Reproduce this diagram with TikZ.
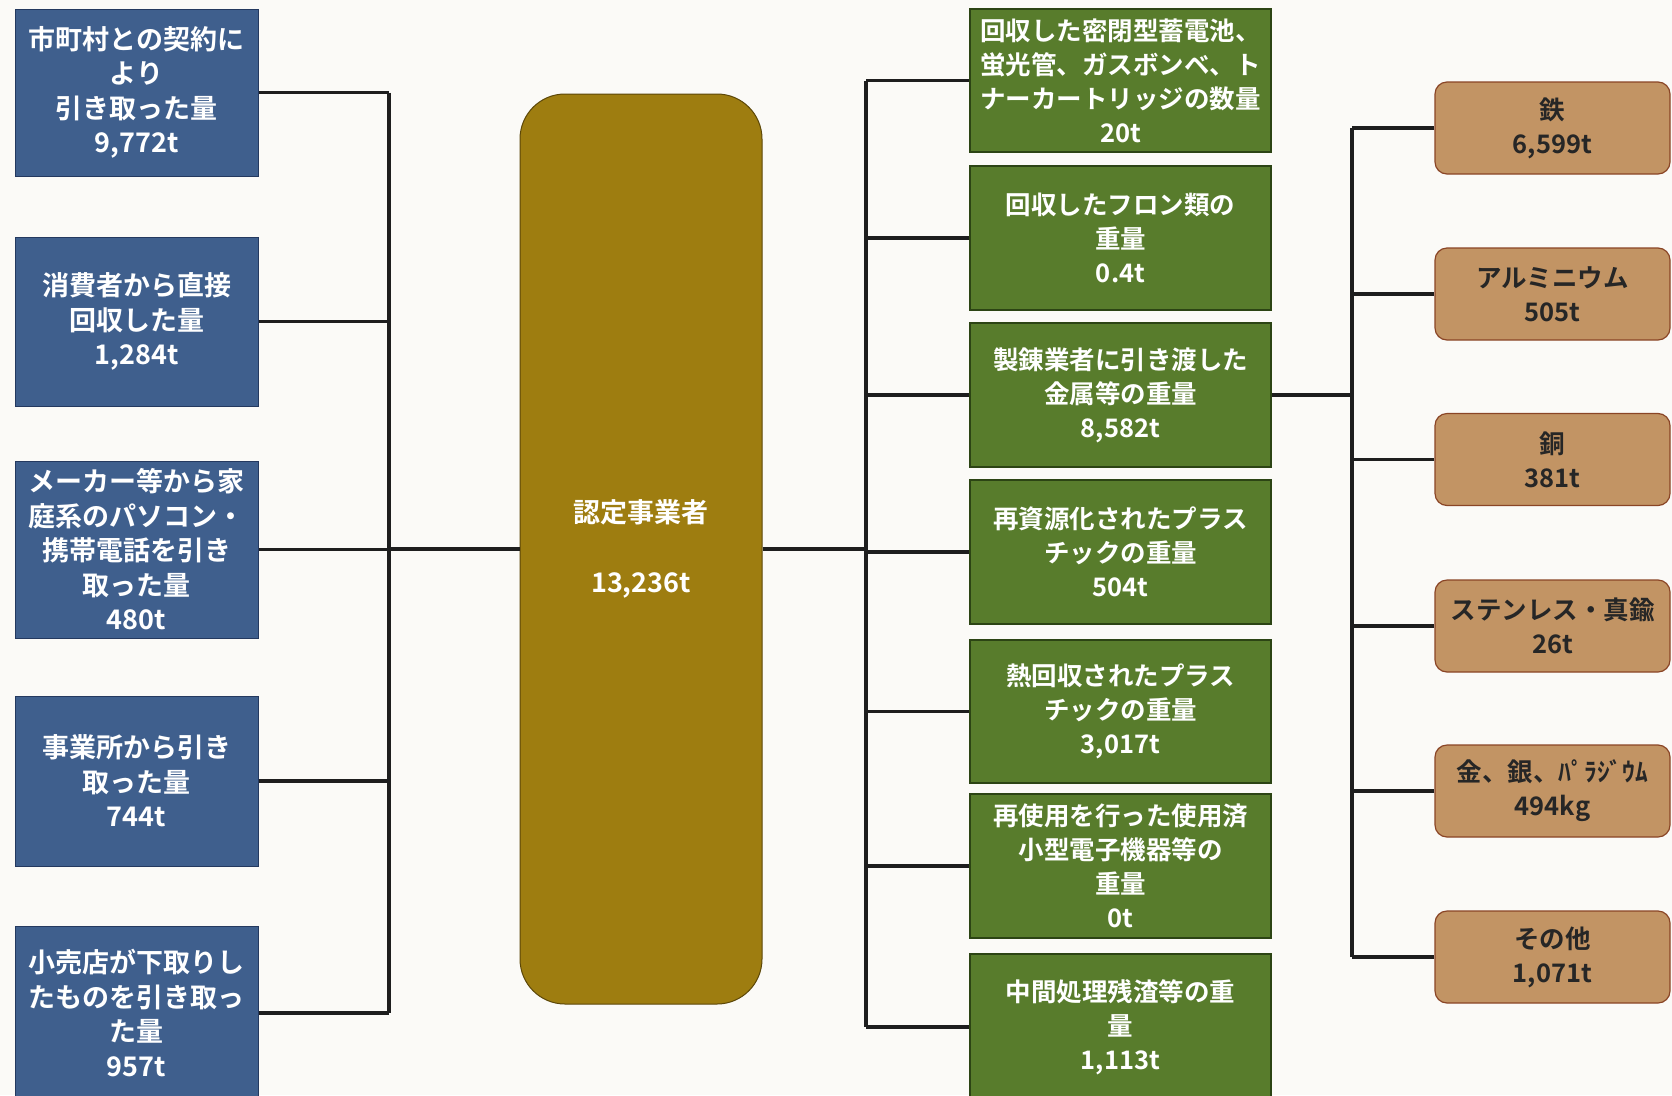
\documentclass[tikz,border=0pt]{standalone}
\usepackage{fontspec}
\setmainfont{Noto Sans CJK JP}[BoldFont={Noto Sans CJK JP Bold}]
\definecolor{cblue}{HTML}{3F5F8D}
\definecolor{cblueD}{HTML}{24395F}
\definecolor{cgreen}{HTML}{587C2C}
\definecolor{cgreenD}{HTML}{2C4414}
\definecolor{cgold}{HTML}{9E7D10}
\definecolor{cgoldD}{HTML}{5C4708}
\definecolor{cbrown}{HTML}{C29464}
\definecolor{cbrownD}{HTML}{8A4526}
\definecolor{cline}{HTML}{1E1E1E}
\definecolor{cbg}{HTML}{FBFAF7}
\begin{document}
\begin{tikzpicture}[x=1pt,y=-1pt,
  blubox/.style={rectangle, fill=cblue, draw=cblueD, line width=1pt, minimum width=243pt, text=white, align=center, inner sep=0pt, font=\fontsize{27}{34.5}\selectfont\bfseries},
  grnbox/.style={rectangle, fill=cgreen, draw=cgreenD, line width=1.2pt, minimum width=301pt, text=white, align=center, inner sep=0pt, font=\fontsize{25.5}{34}\selectfont\bfseries},
  brnbox/.style={rectangle, rounded corners=12pt, fill=cbrown, draw=cbrownD, line width=1.2pt, minimum width=235pt, minimum height=92pt, text=black!85, align=center, inner sep=0pt, font=\fontsize{25.5}{34}\selectfont\bfseries},
  ctrbox/.style={rectangle, rounded corners=45pt, fill=cgold, draw=cgoldD, line width=1pt, minimum width=242pt, minimum height=910pt, text=white, align=center, inner sep=0pt, font=\fontsize{27}{34}\selectfont\bfseries},
  conn/.style={draw=cline, line width=3.2pt}]
\fill[cbg] (0,0) rectangle (1672,1095);
\useasboundingbox (0,0) rectangle (1672,1095);

% left boxes
\node[blubox, minimum height=167pt] (b1) at (136.5,92.5) {市町村との契約に\\より\\引き取った量\\9,772t};
\node[blubox, minimum height=169pt] (b2) at (136.5,321.5) {消費者から直接\\回収した量\\1,284t};
\node[blubox, minimum height=177pt] (b3) at (136.5,549.5) {メーカー等から家\\庭系のパソコン・\\携帯電話を引き\\取った量\\480t};
\node[blubox, minimum height=170pt] (b4) at (136.5,781) {事業所から引き\\取った量\\744t};
\node[blubox, minimum height=174pt] (b5) at (136.5,1013) {小売店が下取りし\\たものを引き取っ\\た量\\957t};

% centre
\node[ctrbox] (c) at (641,549) {認定事業者\\[36pt]13,236t};

% green boxes
\node[grnbox, minimum height=143pt] (g1) at (1120.5,80.5) {回収した密閉型蓄電池、\\蛍光管、ガスボンベ、ト\\ナーカートリッジの数量\\20t};
\node[grnbox, minimum height=144pt] (g2) at (1120.5,238) {回収したフロン類の\\重量\\0.4t};
\node[grnbox, minimum height=144pt] (g3) at (1120.5,395) {製錬業者に引き渡した\\金属等の重量\\8,582t};
\node[grnbox, minimum height=144pt] (g4) at (1120.5,552) {再資源化されたプラス\\チックの重量\\504t};
\node[grnbox, minimum height=143pt] (g5) at (1120.5,711.5) {熱回収されたプラス\\チックの重量\\3,017t};
\node[grnbox, minimum height=144pt] (g6) at (1120.5,866) {再使用を行った使用済\\小型電子機器等の\\重量\\0t};
\node[grnbox, minimum height=146pt] (g7) at (1120.5,1027) {中間処理残渣等の重\\量\\1,113t};

% brown boxes
\node[brnbox] (m1) at (1552.5,128) {鉄\\6,599t};
\node[brnbox] (m2) at (1552.5,294) {アルミニウム\\505t};
\node[brnbox] (m3) at (1552.5,459.5) {銅\\381t};
\node[brnbox] (m4) at (1552.5,626) {ステンレス・真鍮\\26t};
\node[brnbox] (m5) at (1552.5,791) {金、銀、ﾊﾟﾗｼﾞｳﾑ\\494kg};
\node[brnbox] (m6) at (1552.5,957) {その他\\1,071t};

% buses
\coordinate (lbus) at (389,549);
\coordinate (rbus) at (866,549);
\coordinate (mbus) at (1352,395);

\foreach \n in {b1,b2,b3,b4,b5} \draw[conn] (\n.east) -- (\n.east -| lbus);
\draw[conn] (b1.east -| lbus) -- (b5.east -| lbus);
\draw[conn] (lbus) -- (c.west);

\draw[conn] (c.east) -- (rbus);
\foreach \n in {g1,g2,g3,g4,g5,g6,g7} \draw[conn] (\n.west) -- (\n.west -| rbus);
\draw[conn] (g1.west -| rbus) -- (g7.west -| rbus);

\draw[conn] (g3.east) -- (mbus);
\foreach \n in {m1,m2,m3,m4,m5,m6} \draw[conn] (\n.west) -- (\n.west -| mbus);
\draw[conn] (m1.west -| mbus) -- (m6.west -| mbus);
\end{tikzpicture}
\end{document}
